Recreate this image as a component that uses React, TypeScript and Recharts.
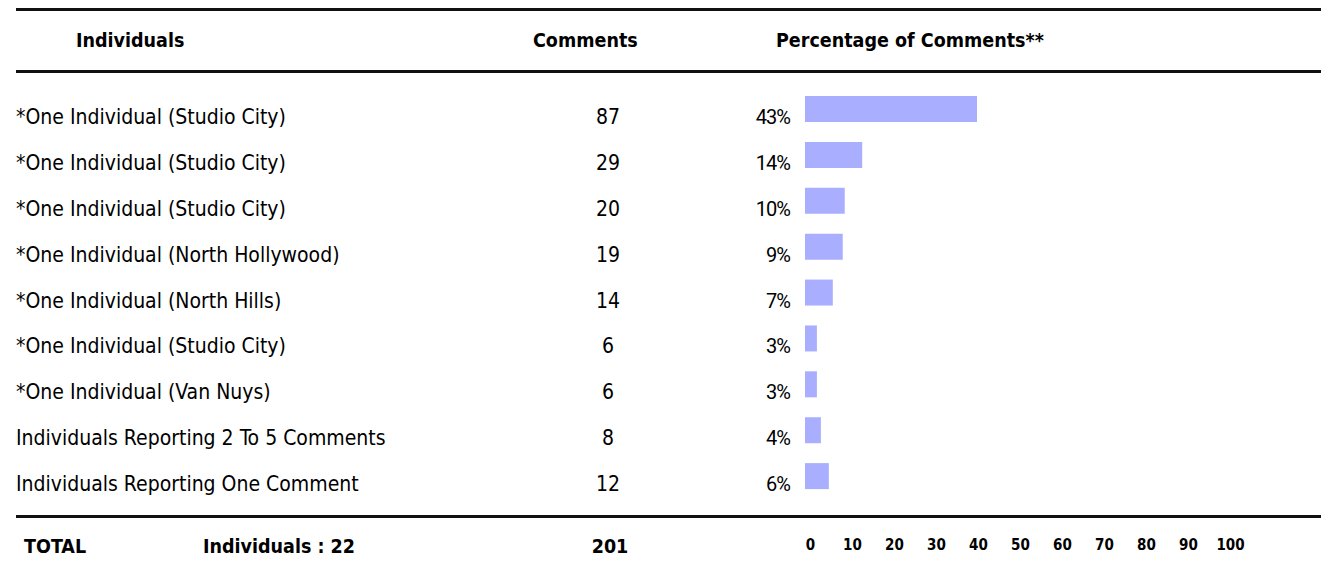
import React from "react";
import { BarChart, Bar, XAxis, YAxis } from "recharts";

const rowKeys = ["r1", "r2", "r3", "r4", "r5", "r6", "r7", "r8", "r9"];
const rowLabels = [
  "*One Individual (Studio City)",
  "*One Individual (Studio City)",
  "*One Individual (Studio City)",
  "*One Individual (North Hollywood)",
  "*One Individual (North Hills)",
  "*One Individual (Studio City)",
  "*One Individual (Van Nuys)",
  "Individuals Reporting 2 To 5 Comments",
  "Individuals Reporting One Comment",
];
const commentCounts = [87, 29, 20, 19, 14, 6, 6, 8, 12];
const percentValues = [43.3, 14.4, 10.0, 9.5, 7.0, 3.0, 3.0, 4.0, 6.0];
const percentLabels = ["43%", "14%", "10%", "9%", "7%", "3%", "3%", "4%", "6%"];
const axisTicks = [0, 10, 20, 30, 40, 50, 60, 70, 80, 90, 100];

const headerLabels = ["Individuals", "Comments", "Percentage of Comments**"];
const totalLabel = "TOTAL";
const totalIndividuals = "Individuals : 22";
const totalComments = "201";

const data = rowKeys.map((k, i) => ({ key: k, pct: percentValues[i] }));

const FONT = "'DejaVu Sans Condensed', 'DejaVu Sans', sans-serif";
const NARROW = "Roboto, 'Liberation Sans', sans-serif";
const W = 1321;
const H = 577;

const RowTick = (props: any) => {
  const { y, index } = props;
  const by = y + 15;
  return (
    <g>
      <text x={16} y={by} fontFamily={FONT} fontStretch="condensed" fontSize={21} fill="#000" textAnchor="start">
        {rowLabels[index]}
      </text>
      <text x={608} y={by} fontFamily={FONT} fontStretch="condensed" fontSize={21} fill="#000" textAnchor="middle">
        {commentCounts[index]}
      </text>
      <text x={790} y={by} fontFamily={NARROW} fontSize={20} letterSpacing={-1} fill="#000" textAnchor="end">
        {percentLabels[index]}
      </text>
    </g>
  );
};

const AxisTick = (props: any) => {
  const { x, y, payload } = props;
  return (
    <text x={x} y={y + 21} fontFamily={FONT} fontStretch="condensed" fontWeight="bold" fontSize={15} fill="#000" textAnchor="middle">
      {payload.value}
    </text>
  );
};

export default function App() {
  return (
    <div style={{ position: "absolute", left: 0, top: 0, width: W, height: H, background: "#fff" }}>
      <BarChart
        width={W}
        height={H}
        data={data}
        layout="vertical"
        margin={{ top: 86, right: 81, bottom: 0, left: 0 }}
        barCategoryGap={0}
      >
        <XAxis xAxisId="bars" type="number" domain={[0, 109.5]} hide allowDataOverflow />
        <XAxis
          xAxisId="ticks"
          type="number"
          domain={[-1.31, 102.26]}
          ticks={axisTicks}
          allowDataOverflow
          axisLine={false}
          tickLine={false}
          tickSize={0}
          tickMargin={0}
          height={78}
          interval={0}
          tick={<AxisTick />}
        />
        <YAxis
          type="category"
          dataKey="key"
          width={805}
          axisLine={false}
          tickLine={false}
          interval={0}
          tick={<RowTick />}
        />
        <Bar dataKey="pct" xAxisId="bars" fill="#aaaeff" barSize={26} isAnimationActive={false} />
      </BarChart>
      <svg
        width={W}
        height={H}
        style={{ position: "absolute", left: 0, top: 0, pointerEvents: "none" }}
      >
        <line x1={16} x2={W} y1={9.5} y2={9.5} stroke="#111" strokeWidth={3} />
        <line x1={16} x2={W} y1={71.5} y2={71.5} stroke="#111" strokeWidth={3} />
        <line x1={16} x2={W} y1={516.5} y2={516.5} stroke="#111" strokeWidth={3} />
        <g fontFamily={FONT} fontStretch="condensed" fontWeight="bold" fontSize={19.5} fill="#000">
          <text x={76} y={47}>{headerLabels[0]}</text>
          <text x={533} y={47}>{headerLabels[1]}</text>
          <text x={776} y={47}>{headerLabels[2]}</text>
          <text x={24} y={553}>{totalLabel}</text>
          <text x={203} y={553}>{totalIndividuals}</text>
          <text x={610} y={553} textAnchor="middle">{totalComments}</text>
        </g>
      </svg>
    </div>
  );
}
